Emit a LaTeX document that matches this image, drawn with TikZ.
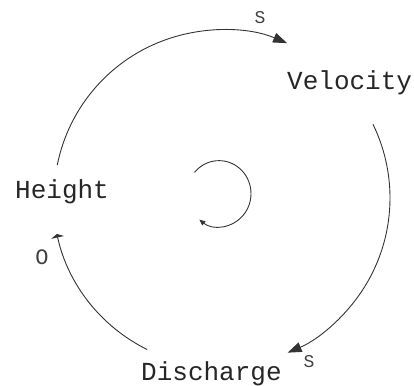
\documentclass[tikz,border=0pt]{standalone}
\usepackage{fontspec}
\setmonofont{Liberation Mono}
\usetikzlibrary{arrows.meta}
\begin{document}
\begin{tikzpicture}[x=1pt,y=1pt,
  lbl/.style={font=\ttfamily\fontsize{26}{30}\selectfont, text=black!85, inner sep=0pt},
  pol/.style={font=\ttfamily\fontsize{18}{20}\selectfont, text=black!75, inner sep=0pt},
  link/.style={draw=black!80, line width=0.9pt},
  bigtip/.style={-{Triangle[length=14pt,width=10pt]}},
  bartip/.style={-{Triangle[length=3.5pt,width=13pt]}},
  smalltip/.style={-{Triangle[length=6pt,width=5pt]}}]
\useasboundingbox (0,0) rectangle (414,385);
\node[lbl, anchor=base west] (H) at (15,186) {Height};
\node[lbl, anchor=base west] (V) at (287,295) {Velocity};
\node[lbl, anchor=base west] (D) at (141,5) {Discharge};
\node[pol] (s1) at (260,367) {S};
\node[pol] (s2) at (309,23) {S};
\node[pol, font=\ttfamily\fontsize{22}{24}\selectfont] (o1) at (42,128) {O};
\coordinate (c) at (222,187);
\coordinate (l) at (219,192);
\draw[link, bigtip] ([shift={(168.7:168pt)}]c) arc[start angle=168.7, end angle=67.2, radius=168pt];
\draw[link, bigtip] ([shift={(26:168pt)}]c) arc[start angle=26, end angle=-67, radius=168pt];
\draw[link, bartip] ([shift={(243.7:169pt)}]c) arc[start angle=243.7, end angle=192.3, radius=169pt];
\draw[link, smalltip] ([shift={(140:32pt)}]l) arc[start angle=140, end angle=-128, x radius=32pt, y radius=33pt];
\end{tikzpicture}
\end{document}
